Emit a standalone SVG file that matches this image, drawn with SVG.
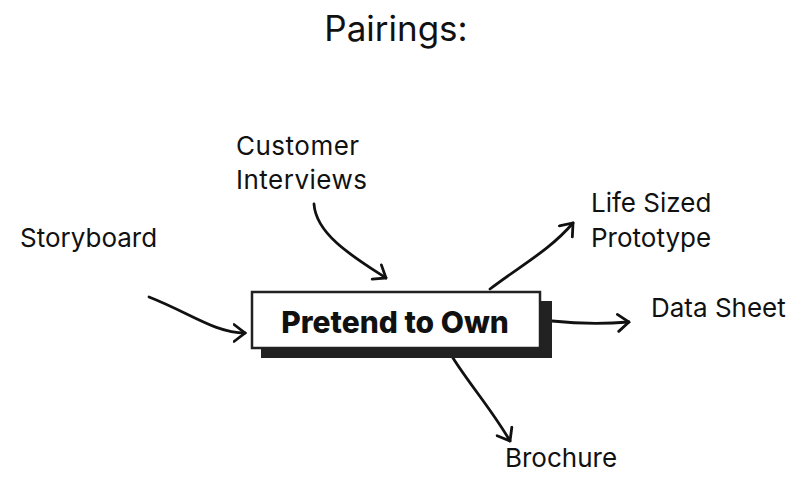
<svg xmlns="http://www.w3.org/2000/svg" width="807" height="479" viewBox="0 0 807 479">
  <style>
    .lbl { font-family: Inter, "Liberation Sans", sans-serif; font-size: 26px; fill: #111; }
    .title { font-family: Inter, "Liberation Sans", sans-serif; font-size: 35px; fill: #111; }
    .main { font-family: Inter, "Liberation Sans", sans-serif; font-size: 30px; font-weight: 800; fill: #111; }
    .conn { fill: none; stroke: #111; stroke-width: 2.8; stroke-linecap: round; stroke-linejoin: round; }
  </style>
  <defs>
    <marker id="arrow" viewBox="0 0 14 20" refX="12.5" refY="10" markerWidth="14" markerHeight="20" markerUnits="userSpaceOnUse" orient="auto">
      <path d="M1.5,1.5 L12.5,10 L1.5,18.5" fill="none" stroke="#111" stroke-width="2.8" stroke-linecap="round" stroke-linejoin="miter"/>
    </marker>
  </defs>
  <rect width="807" height="479" fill="#fff"/>

  <text class="title" x="396" y="41" text-anchor="middle">Pairings:</text>

  <g id="connectors">
    <path class="conn" d="M149,297 C190,313 215,333 245,333" marker-end="url(#arrow)"/>
    <path class="conn" d="M314,204 C316,235 355,258 386,278" marker-end="url(#arrow)"/>
    <path class="conn" d="M490,289 C520,266 550,250 573,223" marker-end="url(#arrow)"/>
    <path class="conn" d="M552,321 C580,324 605,324 629,322" marker-end="url(#arrow)"/>
    <path class="conn" d="M453,358 C470,385 492,410 510,441" marker-end="url(#arrow)"/>
  </g>

  <g id="node-main">
    <rect x="261" y="301" width="291" height="57" fill="#222"/>
    <rect x="252" y="292" width="288" height="56" fill="#fff" stroke="#222" stroke-width="2.5"/>
    <text class="main" x="395" y="333" text-anchor="middle">Pretend to Own</text>
  </g>

  <g id="node-customer">
    <text class="lbl" x="236" y="155" letter-spacing="0.5">Customer</text>
    <text class="lbl" x="236" y="189" letter-spacing="0.5">Interviews</text>
  </g>
  <g id="node-storyboard">
    <text class="lbl" x="20" y="247">Storyboard</text>
  </g>
  <g id="node-prototype">
    <text class="lbl" x="591" y="212">Life Sized</text>
    <text class="lbl" x="591" y="247">Prototype</text>
  </g>
  <g id="node-datasheet">
    <text class="lbl" x="651" y="317">Data Sheet</text>
  </g>
  <g id="node-brochure">
    <text class="lbl" x="505" y="467">Brochure</text>
  </g>
</svg>
